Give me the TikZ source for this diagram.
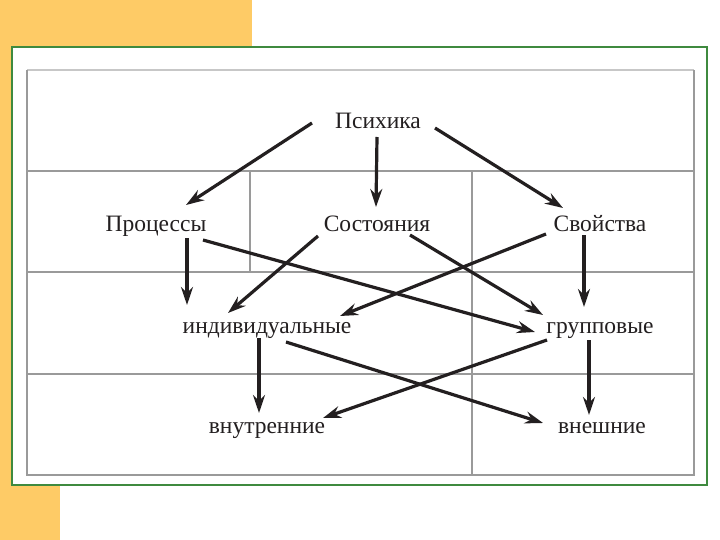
\documentclass[tikz,border=0pt]{standalone}
\usepackage{fontspec}
\setmainfont{Liberation Serif}
\usetikzlibrary{arrows.meta}
\definecolor{slideyellow}{HTML}{FECB66}
\definecolor{framegreen}{HTML}{3F8A3F}
\definecolor{ink}{HTML}{231F20}
\definecolor{tablegray}{HTML}{9A9A9A}
\tikzset{
  lbl/.style={anchor=base, inner sep=0pt, text=ink, font=\fontsize{23.5}{28}\selectfont},
  arr/.style={draw=ink, line width=3.2pt, -{Stealth[length=18pt,width=12pt,inset=6pt]}},
  grid/.style={draw=tablegray, line width=1.8pt},
  gridlight/.style={draw=tablegray!55, line width=1.8pt}
}
\begin{document}
\begin{tikzpicture}[x=1pt,y=-1pt]
\useasboundingbox (0,0) rectangle (720,540);
\fill[white] (0,0) rectangle (720,540);
% yellow decoration
\fill[slideyellow] (0,0) rectangle (252,50);
\fill[slideyellow] (0,0) rectangle (60,540);
% green frame
\draw[framegreen, line width=2.2pt, fill=white] (12,47) rectangle (707,485);
% table
\draw[gridlight] (27,70) -- (694,70);
\draw[grid] (27,70) -- (27,475) -- (694,475) -- (694,70);
\draw[grid] (27,171) -- (694,171);
\draw[grid] (27,272) -- (694,272);
\draw[grid] (27,374) -- (694,374);
\draw[grid] (250,171) -- (250,272);
\draw[grid] (472,171) -- (472,475);
% labels
\node[lbl] (psy) at (378,129) {Психика};
\node[lbl] (proc) at (156,231) {Процессы};
\node[lbl] (sost) at (377,231) {Состояния};
\node[lbl] (svoy) at (600,231) {Свойства};
\node[lbl] (ind) at (267,333) {индивидуальные};
\node[lbl] (grp) at (600,333) {групповые};
\node[lbl] (vnut) at (267,433) {внутренние};
\node[lbl] (vnesh) at (602,433) {внешние};
% arrows
\draw[arr] ([shift={(-66,-6)}]psy.base) -- ([shift={(30,-26)}]proc.base);
\draw[arr] ([shift={(-1,8)}]psy.base) -- ([shift={(-1,-24)}]sost.base);
\draw[arr] ([shift={(57,-1)}]psy.base) -- ([shift={(-37,-23)}]svoy.base);
\draw[arr] ([shift={(31,7)}]proc.base) -- ([shift={(-80,-28)}]ind.base);
\draw[arr] ([shift={(47,9)}]proc.base) -- ([shift={(-65,-1)}]grp.base);
\draw[arr] ([shift={(-59,5)}]sost.base) -- ([shift={(-39,-20)}]ind.base);
\draw[arr] ([shift={(33,4)}]sost.base) -- ([shift={(-57,-18)}]grp.base);
\draw[arr] ([shift={(-54,3)}]svoy.base) -- ([shift={(73,-17)}]ind.base);
\draw[arr] ([shift={(-16,4)}]svoy.base) -- ([shift={(-16,-26)}]grp.base);
\draw[arr] ([shift={(-8,5)}]ind.base) -- ([shift={(-8,-20)}]vnut.base);
\draw[arr] ([shift={(19,9)}]ind.base) -- ([shift={(-59,-10)}]vnesh.base);
\draw[arr] ([shift={(-53,7)}]grp.base) -- ([shift={(56,-15)}]vnut.base);
\draw[arr] ([shift={(-11,7)}]grp.base) -- ([shift={(-13,-18)}]vnesh.base);
\end{tikzpicture}
\end{document}
